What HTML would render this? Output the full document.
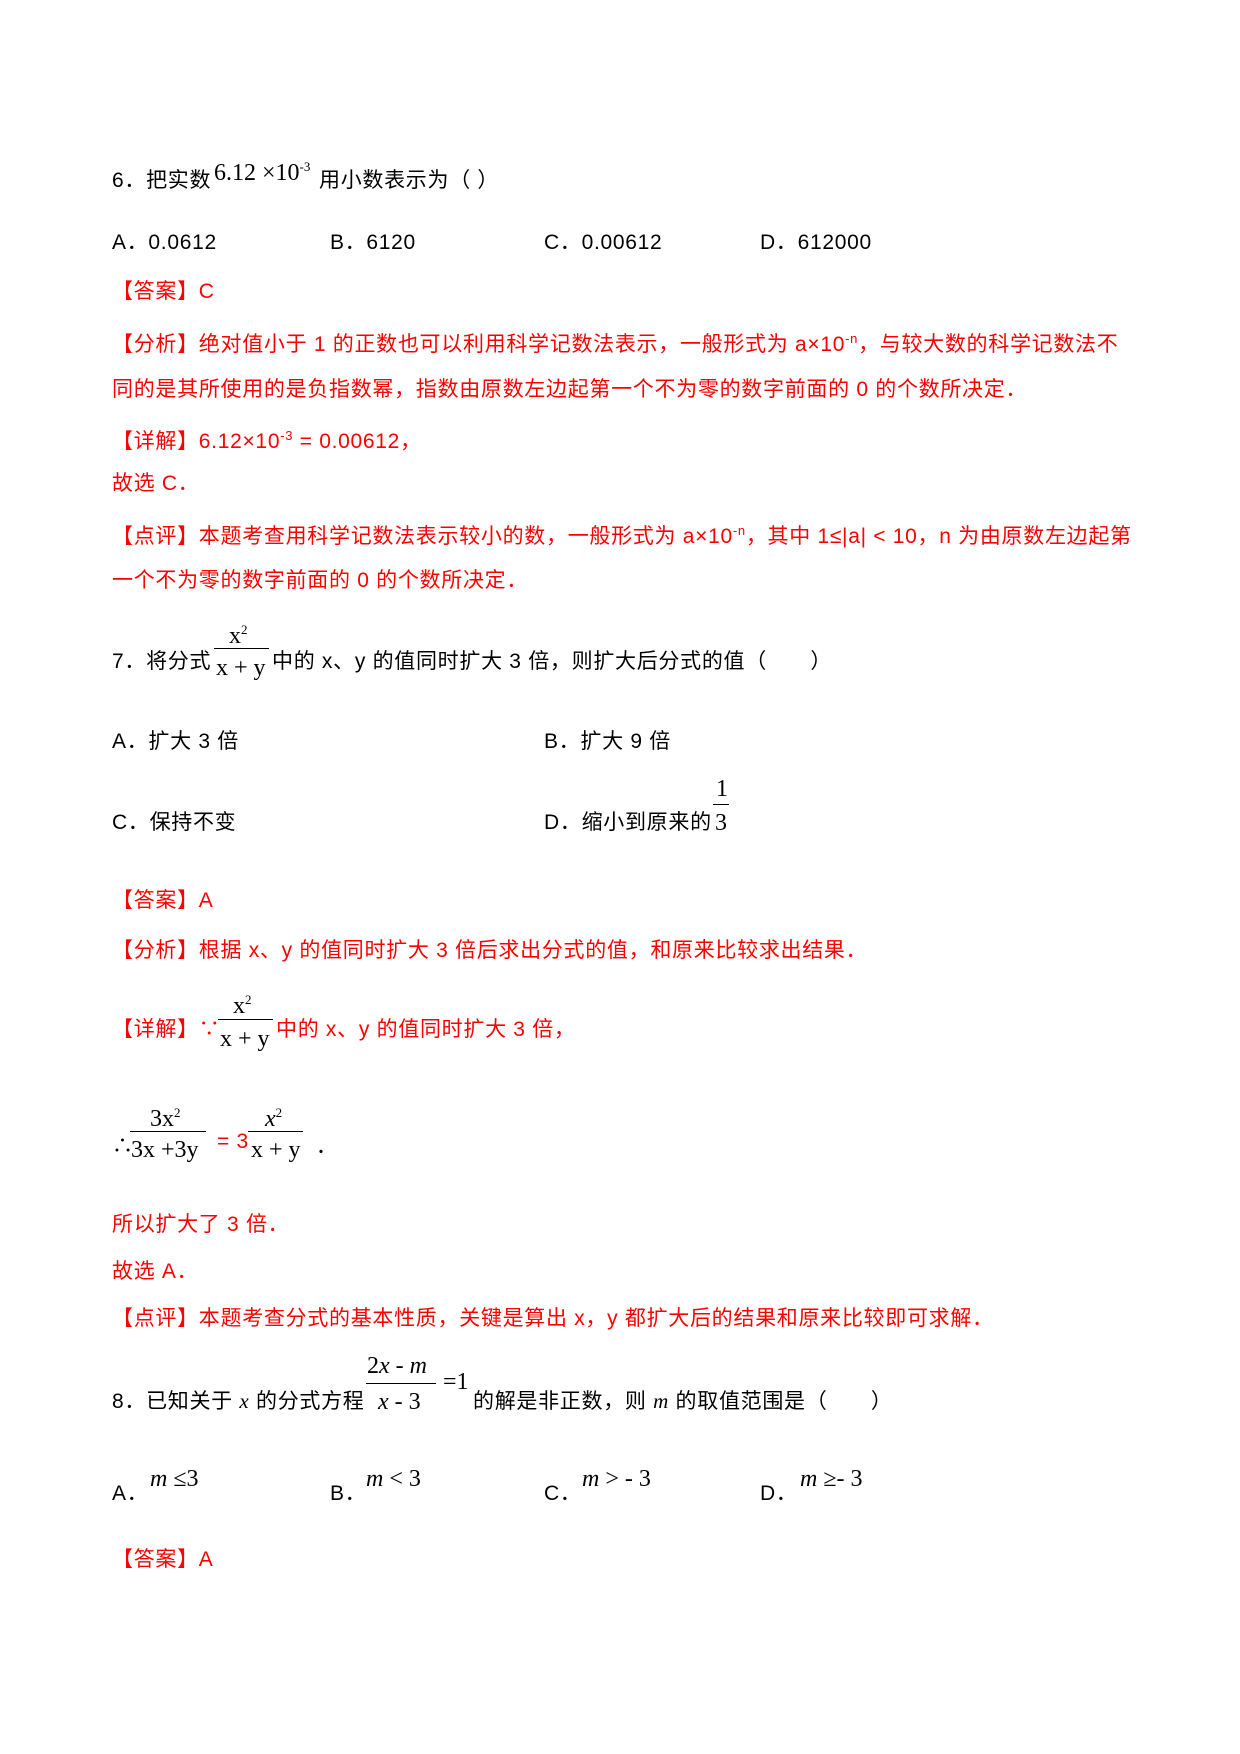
<!DOCTYPE html>
<html><head><meta charset="utf-8"><style>
body{margin:0;background:#fff;}
#p{position:relative;width:1240px;height:1754px;overflow:hidden;font-family:"Liberation Sans","Noto Sans CJK SC",sans-serif;font-size:21px;color:#000;}
.t{position:absolute;white-space:nowrap;line-height:24px;height:24px;letter-spacing:0.7px;}
.r{color:#f00;}
.m{position:absolute;white-space:nowrap;font-family:"Liberation Serif",serif;font-size:24px;line-height:24px;}
.ln{position:absolute;height:1px;background:#000;}
sup{font-size:13px;}
</style></head><body><div id="p">
<div class="t" style="left:112px;top:169px">6．把实数</div>
<div class="m" style="left:214px;top:155px">6.12 ×10<sup>-3</sup></div>
<div class="t" style="left:319px;top:169px">用小数表示为（ ）</div>

<div class="t" style="left:112px;top:231px">A．0.0612</div>
<div class="t" style="left:330px;top:231px">B．6120</div>
<div class="t" style="left:544px;top:231px">C．0.00612</div>
<div class="t" style="left:760px;top:231px">D．612000</div>

<div class="t r" style="left:112px;top:280px">【答案】C</div>
<div class="t r" style="left:112px;top:327px">【分析】绝对值小于 1 的正数也可以利用科学记数法表示，一般形式为 a×10<sup>-n</sup>，与较大数的科学记数法不</div>
<div class="t r" style="left:112px;top:378px">同的是其所使用的是负指数幂，指数由原数左边起第一个不为零的数字前面的 0 的个数所决定．</div>
<div class="t r" style="left:112px;top:424px">【详解】6.12×10<sup>-3</sup> = 0.00612，</div>
<div class="t r" style="left:112px;top:472px">故选 C．</div>
<div class="t r" style="left:112px;top:519px">【点评】本题考查用科学记数法表示较小的数，一般形式为 a×10<sup>-n</sup>，其中 1≤|a| &lt; 10，n 为由原数左边起第</div>
<div class="t r" style="left:112px;top:569px">一个不为零的数字前面的 0 的个数所决定．</div>

<div class="t" style="left:112px;top:650px">7．将分式</div>
<div class="m" style="left:229px;top:618px">x<sup>2</sup></div>
<div class="ln" style="left:214px;top:648px;width:55px"></div>
<div class="m" style="left:216px;top:656px">x + y</div>
<div class="t" style="left:272px;top:650px">中的 x、y 的值同时扩大 3 倍，则扩大后分式的值（　　）</div>

<div class="t" style="left:112px;top:730px">A．扩大 3 倍</div>
<div class="t" style="left:544px;top:730px">B．扩大 9 倍</div>
<div class="t" style="left:112px;top:811px">C．保持不变</div>
<div class="t" style="left:544px;top:811px">D．缩小到原来的</div>
<div class="m" style="left:716px;top:777px">1</div>
<div class="ln" style="left:713px;top:804px;width:16px"></div>
<div class="m" style="left:715px;top:811px">3</div>

<div class="t r" style="left:112px;top:889px">【答案】A</div>
<div class="t r" style="left:112px;top:939px">【分析】根据 x、y 的值同时扩大 3 倍后求出分式的值，和原来比较求出结果．</div>
<div class="t r" style="left:112px;top:1018px">【详解】∵</div>
<div class="m" style="left:233px;top:988px">x<sup>2</sup></div>
<div class="ln" style="left:218px;top:1019px;width:55px"></div>
<div class="m" style="left:220px;top:1027px">x + y</div>
<div class="t r" style="left:276px;top:1018px">中的 x、y 的值同时扩大 3 倍，</div>

<div class="t" style="left:112px;top:1135px">∴</div>
<div class="m" style="left:150px;top:1101px">3x<sup>2</sup></div>
<div class="ln" style="left:130px;top:1131px;width:76px"></div>
<div class="m" style="left:131px;top:1138px">3x +3y</div>
<div class="t r" style="left:217px;top:1130px">= 3</div>
<div class="m" style="left:265px;top:1101px"><i>x</i><sup>2</sup></div>
<div class="ln" style="left:248px;top:1131px;width:55px"></div>
<div class="m" style="left:251px;top:1138px">x + y</div>
<div class="t" style="left:316px;top:1135px">．</div>

<div class="t r" style="left:112px;top:1213px">所以扩大了 3 倍．</div>
<div class="t r" style="left:112px;top:1260px">故选 A．</div>
<div class="t r" style="left:112px;top:1307px">【点评】本题考查分式的基本性质，关键是算出 x，y 都扩大后的结果和原来比较即可求解．</div>

<div class="t" style="left:112px;top:1389px">8．已知关于 <i style="font-family:'Liberation Serif',serif">x</i> 的分式方程</div>
<div class="m" style="left:367px;top:1354px">2<i>x</i> - <i>m</i></div>
<div class="ln" style="left:366px;top:1383px;width:70px"></div>
<div class="m" style="left:378px;top:1390px"><i>x</i> - 3</div>
<div class="m" style="left:443px;top:1370px">=1</div>
<div class="t" style="left:473px;top:1389px">的解是非正数，则 <i style="font-family:'Liberation Serif',serif">m</i> 的取值范围是（　　）</div>

<div class="t" style="left:112px;top:1482px">A．</div>
<div class="m" style="left:150px;top:1467px"><i>m</i> ≤3</div>
<div class="t" style="left:330px;top:1482px">B．</div>
<div class="m" style="left:366px;top:1467px"><i>m</i> &lt; 3</div>
<div class="t" style="left:544px;top:1482px">C．</div>
<div class="m" style="left:582px;top:1467px"><i>m</i> &gt; - 3</div>
<div class="t" style="left:760px;top:1482px">D．</div>
<div class="m" style="left:800px;top:1467px"><i>m</i> ≥- 3</div>

<div class="t r" style="left:112px;top:1548px">【答案】A</div>
</div></body></html>
